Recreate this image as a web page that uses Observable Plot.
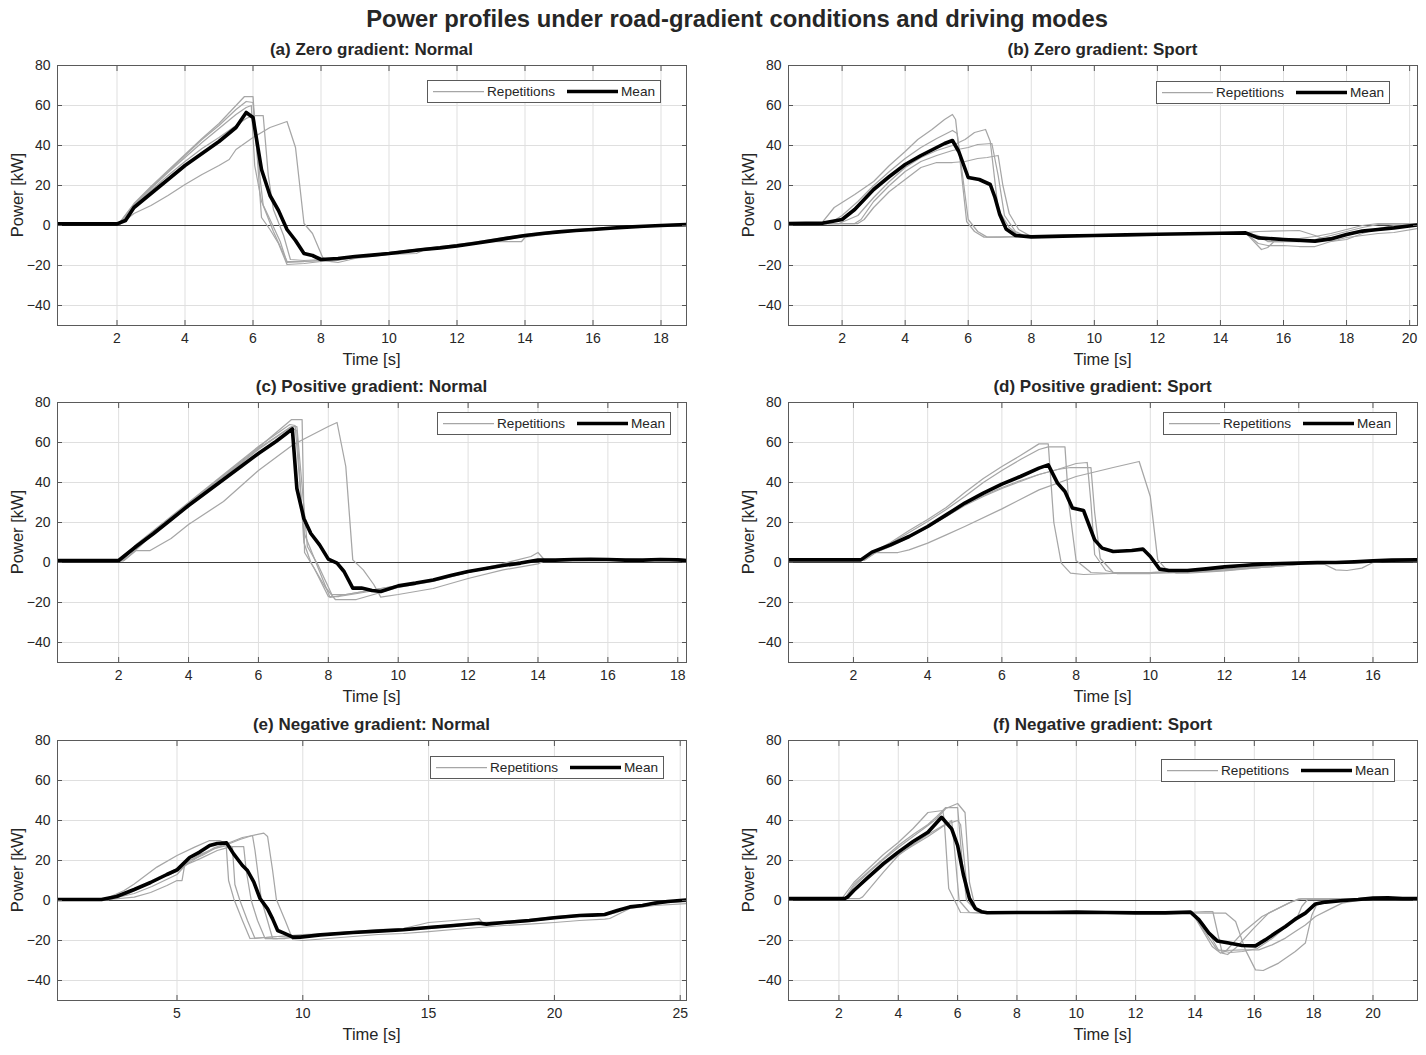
<!DOCTYPE html>
<html><head><meta charset="utf-8">
<script src="https://cdn.jsdelivr.net/npm/d3@7"></script>
<script src="https://cdn.jsdelivr.net/npm/@observablehq/plot@0.6"></script>
<style>
body{margin:0;background:#fff;font-family:"Liberation Sans",Arial,Helvetica,sans-serif;color:#262626;}
#root{position:relative;width:1426px;height:1055px;overflow:hidden;}
.abs{position:absolute;}
#title{left:37px;width:1400px;top:5px;text-align:center;font-weight:bold;font-size:23.8px;line-height:28px;white-space:nowrap;}
.ptitle{text-align:center;font-weight:bold;font-size:17px;line-height:20px;white-space:nowrap;}
.xlab{text-align:center;font-size:16.5px;line-height:19px;white-space:nowrap;}
.ylab{font-size:16.5px;line-height:19px;white-space:nowrap;transform:translate(-50%,-50%) rotate(-90deg);}
.legend{background:#fff;border:1px solid #5a5a5a;box-sizing:border-box;height:23px;}
</style>
</head><body><div id="root"><div id="title" class="abs">Power profiles under road-gradient conditions and driving modes</div></div>
<script>
// ---------- tick labels ----------
const yTicks = [-40, -20, 0, 20, 40, 60, 80];
const xTicksA = [2, 4, 6, 8, 10, 12, 14, 16, 18];
const xTicksB = [2, 4, 6, 8, 10, 12, 14, 16, 18, 20];
const xTicksC = [2, 4, 6, 8, 10, 12, 14, 16, 18];
const xTicksD = [2, 4, 6, 8, 10, 12, 14, 16];
const xTicksE = [5, 10, 15, 20, 25];
const xTicksF = [2, 4, 6, 8, 10, 12, 14, 16, 18, 20];

const panelTitles = ["(a) Zero gradient: Normal", "(b) Zero gradient: Sport", "(c) Positive gradient: Normal",
  "(d) Positive gradient: Sport", "(e) Negative gradient: Normal", "(f) Negative gradient: Sport"];
const timeRanges = [[0.25, 18.75], [0.3, 20.25], [0.25, 18.25], [0.25, 17.2], [0.25, 25.25], [0.3, 21.5]];

// ---------- (a) Zero gradient: Normal  [time s, power kW] ----------
const aMean = [[0.25,0.8],[2.0,0.8],[2.25,2.5],[2.5,9],[3,16],[3.5,23],[4,30],[4.5,36],[5,42],[5.5,49],[5.8,56.5],[6.0,54],[6.25,28],[6.5,15],[6.75,7.5],[7.0,-2],[7.25,-7.5],[7.5,-14],[7.75,-15],[8.0,-17],[8.5,-16.5],[9,-15.5],[9.5,-14.8],[10,-14],[10.5,-13],[11,-12],[11.5,-11.2],[12,-10.2],[12.5,-9],[13,-7.7],[13.5,-6.3],[14,-5],[14.5,-4],[15,-3.2],[15.5,-2.5],[16,-2],[16.5,-1.4],[17,-0.8],[17.5,-0.4],[18,0],[18.75,0.5]];
const aRep1 = [[0.25,0.8],[2.05,0.8],[2.5,11],[3,19.5],[3.5,27.5],[4,35.5],[4.5,43.5],[5,51],[5.5,60],[5.75,64.5],[6.0,64.5],[6.25,4],[6.5,-2],[6.75,-9],[7.0,-19.5],[7.5,-19],[8,-18],[8.5,-17],[9,-16],[10,-14],[11,-12],[12,-10.5],[13,-8],[14,-5.5],[15,-3.5],[16,-2],[17,-1],[18,0],[18.75,0.5]];
const aRep2 = [[0.25,0.8],[2.05,0.8],[2.5,10.5],[3,19],[3.5,27],[4,35],[4.5,43],[5,50],[5.5,58],[5.8,62],[6.0,61.5],[6.1,40],[6.3,10],[6.6,-3],[7.0,-18],[7.5,-18],[8,-17.5],[8.5,-17],[9,-15.5],[10,-13.5],[11,-11.5],[12,-10],[13,-7.5],[14,-5],[15,-3],[16,-1.5],[17,-0.5],[18,0.3],[18.75,0.8]];
const aRep3 = [[0.25,0.8],[2.1,0.8],[2.5,9.5],[3,17.5],[3.5,25],[4,32],[4.5,38.5],[5,44],[5.5,50],[5.8,53.5],[6.0,55],[6.3,55],[6.45,25],[6.6,8],[6.9,-5],[7.1,-17],[7.5,-17.5],[8,-17],[8.5,-16.5],[9,-15.5],[10,-13.5],[11,-11.5],[12,-9.5],[13,-7],[14,-4.5],[15,-2.5],[16,-1.5],[17,-0.5],[18,0],[18.75,0.3]];
const aRep4 = [[0.25,0.8],[2.1,0.8],[2.5,10],[3,18.5],[3.5,26.5],[4,34],[4.5,41.5],[5,48.5],[5.5,55.5],[5.8,59],[5.95,60],[6.05,30],[6.25,12],[6.5,3],[6.8,-8],[7.0,-18.5],[7.5,-18],[8,-17.5],[8.5,-18.5],[9,-16.5],[10,-14.5],[10.8,-14],[11,-12.5],[12,-10.5],[13,-8],[13.9,-8],[14,-6],[15,-3.5],[16,-2],[17,-1],[18,-0.3],[18.75,-0.5]];
const aRep5 = [[0.25,0.8],[2.1,0.8],[2.5,6],[3,10],[3.5,15],[4,20.5],[4.5,25.5],[5,30],[5.3,33],[5.5,38],[6.0,44],[6.5,49],[7.0,52],[7.25,39],[7.5,1],[7.75,-4],[8.05,-16],[8.3,-18],[9,-16],[10,-14],[11,-12],[12,-10],[13,-7.5],[14,-5],[15,-3],[16,-1.7],[17,-0.8],[18,0],[18.75,0.5]];

// ---------- (b) Zero gradient: Sport ----------
const bMean = [[0.3,1],[1.4,1.2],[1.75,2.2],[2.0,3],[2.4,8],[3,18],[3.5,24.5],[4,30.5],[4.5,35],[5,39],[5.25,41],[5.5,42.5],[5.7,37],[6.0,24],[6.35,23],[6.7,20.5],[6.85,14],[7.0,5.5],[7.2,-1.7],[7.5,-5],[8,-5.7],[9,-5.3],[10,-5],[11,-4.7],[12,-4.4],[13,-4.1],[14,-3.9],[14.8,-3.7],[15.2,-6.2],[16,-7],[17,-7.8],[17.5,-6.7],[18,-4.5],[18.5,-2.8],[19,-2],[19.5,-1.2],[20.25,0.3]];
const bRep1 = [[0.3,1],[1.35,1.2],[1.75,9],[2.4,15.5],[3,22],[3.5,30],[4,37],[4.4,43],[4.85,48],[5.25,53],[5.5,55.5],[5.6,53],[5.95,2],[6.2,-3],[6.5,-5.8],[7,-5.8],[7.5,-5.5],[8,-5.5],[9,-5.3],[10,-4.9],[11,-4.6],[12,-4.3],[13,-4],[14,-3.8],[14.8,-3.7],[15.3,-12],[15.5,-11],[15.7,-8],[16.5,-8],[17,-7],[17.5,-5],[18,-3],[18.5,-1],[19,0.5],[20.25,1]];
const bRep2 = [[0.3,1],[1.6,1],[2.0,5],[2.5,12],[3,20],[3.5,27],[4,33.5],[4.5,39],[5,43.5],[5.5,47.5],[5.65,46],[6.0,3],[6.3,-3],[6.6,-5.8],[7.5,-5.7],[8,-5.6],[9,-5.3],[10,-5],[11,-4.7],[12,-4.4],[13,-4.1],[14,-3.8],[14.8,-3.7],[15.2,-9],[15.5,-10],[16,-10],[16.5,-10.5],[17,-10.5],[17.5,-8],[18,-6],[18.5,-5],[19,-4],[19.5,-3.5],[20.25,-1.5]];
const bRep3 = [[0.3,1],[1.9,1],[2.5,5],[3,14],[3.5,22],[4,29],[4.5,34],[5,37.5],[5.5,40],[5.9,43],[6.2,46.5],[6.55,48],[6.7,42],[6.95,8],[7.3,-1],[7.6,-5],[8,-5.6],[9,-5.3],[10,-4.9],[11,-4.6],[12,-4.3],[13,-4],[14,-3.7],[14.8,-3.6],[15.2,-3],[16.5,-2.5],[17,-5],[17.5,-8],[18,-7],[18.5,-4],[19,-1.5],[19.5,0],[20.25,0.5]];
const bRep4 = [[0.3,1],[2.4,1],[2.6,3],[3,12],[3.5,20],[4,27],[4.5,32],[5,35],[5.5,37.5],[6,39],[6.3,40.5],[6.75,41],[6.95,25],[7.15,5],[7.5,-3],[7.8,-5.3],[8.5,-5.5],[9,-5.3],[10,-4.9],[11,-4.6],[12,-4.2],[13,-4],[14,-3.8],[14.8,-3.7],[15.2,-6],[16,-6.5],[16.5,-6.5],[17,-5.5],[17.5,-4],[18,-2],[18.5,0],[19,1],[20.25,1]];
const bRep5 = [[0.3,1],[2.5,1],[2.7,3],[3,9],[3.5,17],[4,23],[4.5,29],[5,31.5],[5.5,31.5],[5.9,32],[6.3,33.5],[6.6,34],[6.95,35],[7.1,20],[7.3,6],[7.6,-2],[8,-5.5],[9,-5.3],[10,-4.9],[11,-4.6],[12,-4.3],[13,-4],[14,-3.8],[14.8,-3.7],[15.2,-5],[15.5,-8],[16,-8],[17,-7.5],[17.5,-6],[18,-5],[18.5,-3],[19,-2],[20.25,0]];

// ---------- (c) Positive gradient: Normal ----------
const cMean = [[0.25,1],[2.0,1],[2.5,8],[3,14.5],[3.5,21.5],[4,28.5],[4.5,35],[5,41.5],[5.5,48],[6,54.5],[6.5,60.5],[6.8,64.5],[6.97,66.8],[7.1,37],[7.3,22],[7.5,14.5],[7.75,8.8],[8.0,1.7],[8.25,-0.3],[8.45,-4.5],[8.7,-12.8],[8.95,-12.8],[9.25,-14],[9.5,-14.5],[10,-11.7],[10.5,-10.3],[11,-8.7],[11.5,-6.5],[12,-4.5],[12.5,-3],[13,-1.5],[13.5,-0.3],[14,1.2],[14.5,1.2],[15,1.5],[15.5,1.6],[16,1.5],[16.5,1.2],[17,1.2],[17.5,1.5],[18,1.3],[18.25,1]];
const cRep1 = [[0.25,1],[2.05,1],[2.5,8.5],[3,15.5],[4,29.5],[5,43.5],[6,57.5],[6.95,71.5],[7.25,71.5],[7.32,5],[7.6,-3],[8.0,-17],[8.3,-17],[9,-15],[9.5,-13.5],[10,-12],[11,-9],[12,-5],[13,-1.5],[13.5,0],[14,1],[15,1.5],[16,1.5],[17,1.2],[18,1.5],[18.25,1]];
const cRep2 = [[0.25,1],[2.1,1],[2.5,9],[3,16],[4,30],[5,44],[6,58],[6.9,69],[7.05,68.5],[7.3,15],[7.6,2],[8.05,-17.5],[8.5,-16],[9,-14.5],[10,-11.5],[11,-8.5],[12,-4.5],[13,-1],[14,1.5],[15,1.5],[16,2],[17,1.5],[18,2],[18.25,1.5]];
const cRep3 = [[0.25,1],[2.1,1],[2.5,8],[3,15],[4,29],[5,43],[6,57],[6.9,67.5],[7.1,66],[7.3,10],[7.5,0],[7.9,-12],[8.2,-18.5],[8.8,-18.5],[9.5,-15],[10,-12.5],[11,-9.5],[12,-5],[13,-1],[14,1],[15,1.5],[16,1.5],[17,1],[18,1.2],[18.25,1]];
const cRep4 = [[0.25,1],[2.15,1],[2.6,8],[3,14.5],[4,28.5],[5,42.5],[6,56.5],[6.95,68],[7.1,68],[7.4,8],[7.7,-1],[8.1,-16],[8.5,-16],[9,-14.5],[10,-11.5],[11,-8.5],[12,-4.5],[13,-0.5],[13.8,3],[14,5],[14.2,1],[15,1.5],[16,1.5],[17,1.2],[18,1.5],[18.25,1]];
const cRep5 = [[0.25,1],[2.15,1],[2.5,6],[2.9,6],[3.5,12],[4,19],[5,30.5],[6,46],[7,59],[8,68],[8.25,70],[8.5,48],[8.7,1.3],[9,-3.7],[9.3,-11],[9.5,-17.3],[10,-16],[11,-13],[12,-8],[13,-3.7],[14,-0.7],[14.2,1],[15,1],[16,1.2],[17,1],[18,1],[18.25,0.8]];

// ---------- (d) Positive gradient: Sport ----------
const dMean = [[0.25,1.3],[2.2,1.3],[2.5,5.2],[3,8.8],[3.5,13],[4,18],[4.5,23.8],[5,29.7],[5.5,34.7],[6,39.2],[6.5,43],[7,47.2],[7.25,48.8],[7.5,39.7],[7.7,35.5],[7.9,27.2],[8.2,26],[8.5,11.3],[8.7,7.2],[9,5.5],[9.5,6],[9.8,6.7],[10,3],[10.25,-3.3],[10.5,-4],[11,-4],[11.5,-3.2],[12,-2.2],[12.5,-1.5],[13,-0.8],[13.5,-0.5],[14,-0.3],[14.5,0],[15,0],[15.5,0.3],[16,0.8],[16.5,1.2],[17.2,1.3]];
const dRep1 = [[0.25,1.3],[2.25,1.3],[2.5,5],[3,10],[3.5,16],[4,21.5],[4.5,27.5],[5,35],[5.5,42],[6,48],[6.5,53.5],[7,59.3],[7.25,59.3],[7.4,20],[7.6,-0.3],[7.85,-5.3],[8.2,-6],[9,-5.5],[10,-5],[11,-4.5],[12,-3.5],[13,-2.5],[14,-1],[15,0],[16,0.8],[17.2,1.3]];
const dRep2 = [[0.25,1.3],[2.25,1.3],[2.5,5],[3,9.5],[3.5,15],[4,20.5],[4.5,26.5],[5,33],[5.5,40],[6,46],[6.5,51.5],[7,56.5],[7.25,57.8],[7.7,57.8],[7.8,30],[8.0,1],[8.4,-5],[9,-5.5],[10,-5],[11,-4.5],[12,-3.5],[13,-2],[14,-0.5],[15,0],[16,0.8],[17.2,1.5]];
const dRep3 = [[0.25,1.3],[2.3,1.3],[2.6,5],[3,8.5],[3.5,13],[4,18],[4.5,23],[5,29],[5.5,33.5],[6,37.5],[6.5,41],[7,44],[7.5,46.5],[8,49.5],[8.3,50],[8.4,30],[8.5,4],[8.8,-4],[9.1,-5.5],[10,-5.5],[11,-5],[12,-4],[13,-2.5],[14,-1],[15,0],[16,0.5],[17.2,1]];
const dRep4 = [[0.25,1.3],[2.3,1.3],[2.6,5],[3,8],[3.5,12.5],[4,17.5],[4.5,23],[5,28.5],[5.5,33],[6,37],[6.5,40.5],[7,44],[7.5,46.5],[7.85,47.5],[8.4,47.5],[8.5,25],[8.65,2],[9,-5],[10,-5],[11,-4.5],[12,-3.5],[13,-2],[14,-0.5],[15,0],[16,1],[17.2,1.5]];
const dRep5 = [[0.25,1.3],[2.3,1.3],[2.5,5],[3.2,5],[3.5,6.3],[4,9.7],[4.5,13.8],[5,18],[6,26.8],[7,36.3],[8,43],[9,47.5],[9.7,50.5],[10.0,33],[10.2,1.3],[10.4,-2.8],[10.7,-5.3],[11,-5.3],[12,-4.2],[13,-2.5],[14,-0.8],[14.7,-1],[15,-3.7],[15.3,-4],[15.7,-2.8],[16,0],[16.5,1],[17.2,1]];

// ---------- (e) Negative gradient: Normal ----------
const eMean = [[0.25,0.5],[2.0,0.5],[2.6,2],[3.3,5.5],[3.95,9],[4.6,13],[5,15.3],[5.5,21.5],[5.9,24.2],[6.3,27.5],[6.6,28.5],[6.97,28.8],[7.25,23.3],[7.6,17.5],[7.8,15],[8.05,9.3],[8.3,1],[8.6,-4.2],[8.8,-9.2],[9.0,-15],[9.25,-16.3],[9.6,-18.3],[9.9,-18.3],[10.7,-17.2],[12,-16],[13,-15.3],[14,-14.6],[15,-13.5],[16,-12.5],[17,-11.4],[17.3,-11.8],[18,-11],[19,-10],[20,-8.6],[21,-7.5],[21.5,-7.3],[22,-7],[22.5,-5],[23,-3.2],[23.5,-2.5],[24,-1.3],[24.5,-0.5],[25.25,0.3]];
const eRep1 = [[0.25,0.5],[2.1,0.5],[2.9,5],[3.3,8.3],[4.2,16.7],[5,22.5],[5.7,26.7],[6.3,30],[6.7,30],[6.95,28.5],[7.05,10],[7.26,0.8],[7.6,-10],[7.9,-19],[8.5,-18.5],[9,-18],[10,-17],[11,-16.5],[12,-15.5],[13,-14.5],[14,-14],[15,-13],[16,-12],[17,-11],[18,-10.5],[19,-9.5],[20,-8],[21,-7],[22,-6.5],[23,-3],[24,-1],[25.25,0]];
const eRep2 = [[0.25,0.5],[2.3,0.5],[3.3,1.7],[3.95,4],[4.6,7.5],[5,10],[5.2,10],[5.3,17.5],[5.9,20.8],[6.6,25],[6.97,26.3],[7.2,27],[7.65,27],[7.75,15],[7.95,0],[8.2,-10],[8.5,-19],[9,-19],[10,-18],[11,-17],[12,-16],[13,-15.5],[14,-15],[15,-14],[16,-13],[17,-12],[18,-11.5],[19,-10.5],[20,-9],[21,-8],[22,-7.5],[22.5,-6],[23,-3],[24,-1.5],[25.25,-0.5]];
const eRep3 = [[0.25,0.5],[2.2,0.5],[3.3,5],[4,9.5],[5,14.5],[5.5,19],[6,23],[6.5,26.5],[7,28.5],[7.3,30],[7.6,31.5],[8.0,32.5],[8.1,25],[8.35,0.5],[8.55,-8],[8.8,-19],[9.3,-19],[10,-18],[11,-17],[12,-16],[13,-15],[14,-14.5],[15,-13.5],[16,-12.5],[17,-11.5],[18,-11],[19,-10],[20,-8.5],[21,-7.5],[22,-7.5],[22.5,-5],[23,-3],[24,-1],[25.25,0.3]];
const eRep4 = [[0.25,0.5],[2.3,0.5],[3.3,3.5],[4,7],[5,13],[5.5,20],[6,22.5],[6.5,26],[7,28],[7.5,30.5],[8,32.5],[8.45,33.7],[8.6,32],[8.8,15],[8.95,0.5],[9.3,-10],[9.6,-19.5],[10,-20],[11,-19],[12,-18],[13,-17],[14,-16.5],[15,-15.6],[16,-14.5],[17,-13.5],[18,-12.5],[19,-11.8],[20,-11],[21,-10],[22,-9.3],[22.2,-9],[23,-4],[24,-2.5],[25.25,-1.5]];
const eRep5 = [[0.25,0.5],[2.2,0.5],[3,3],[3.5,6],[4,10],[4.5,13],[5,16],[5.5,20],[6,23.5],[6.5,26],[7,27.5],[7.2,27],[7.3,8],[7.5,0],[7.8,-10],[8.1,-19],[8.5,-18.5],[9,-18],[10,-17.5],[11,-16.5],[12,-15.5],[13,-15],[14,-14],[15,-11],[16,-10],[17,-9],[17.2,-12],[18,-11],[19,-10],[20,-8.5],[21,-7.5],[22,-7],[23,-3.5],[24,-1.5],[25.25,0]];

// ---------- (f) Negative gradient: Sport ----------
const fMean = [[0.3,1],[2.2,1],[2.3,1.8],[2.5,5],[3,11.8],[3.5,18.4],[4,24.2],[4.5,29.5],[5,34.1],[5.46,41.6],[5.8,35.8],[6.0,27.5],[6.2,12.6],[6.4,1],[6.6,-4],[6.8,-5.6],[7,-6.1],[8,-6],[9,-6],[10,-5.8],[11,-6],[12,-6.2],[13,-6.2],[13.85,-5.8],[14.13,-9.6],[14.47,-16.3],[14.75,-20.2],[15.14,-21.3],[15.59,-22.5],[16.04,-22.7],[16.37,-19.7],[16.71,-16.3],[17.05,-13],[17.38,-9.3],[17.72,-6.3],[18.06,-1.7],[18.4,-0.8],[19,0],[19.5,0.5],[20,1.2],[20.5,1.3],[21,1],[21.5,1]];
const fRep1 = [[0.3,1],[2.2,1],[2.5,7],[3,14],[3.5,20.5],[4,26.5],[4.5,32],[5,37.5],[5.3,41],[5.6,46],[6.0,48.5],[6.25,44],[6.4,9],[6.6,-4],[7,-6],[8,-6.5],[9,-6],[10,-6],[11,-6],[12,-6.5],[13,-6],[13.9,-6],[14.58,-23],[14.86,-26.3],[15.03,-25.5],[15.59,-16.3],[16.26,-8],[16.82,-3.8],[17.27,-0.5],[17.6,0.8],[18.5,0.8],[19.5,1],[20,1.5],[21.5,1.2]];
const fRep2 = [[0.3,1],[2.2,1],[2.5,8],[3,14.5],[3.5,21],[4,27.5],[4.5,33],[5,38],[5.3,42],[5.6,46.5],[6.0,46.5],[6.15,20],[6.3,0],[6.7,-6],[7,-6.3],[8,-6],[9,-6.3],[10,-5.8],[11,-6.2],[12,-6],[13,-6.5],[14.36,-5.5],[14.6,-5.5],[14.92,-26.3],[15.1,-27],[15.37,-23.8],[15.93,-14.7],[16.48,-6.3],[17.16,-1.3],[17.5,0.8],[18.5,0.8],[19.5,1],[20,1.3],[21.5,1]];
const fRep3 = [[0.3,1],[2.1,1],[2.5,9],[3,16],[3.5,23],[4,29],[4.5,36],[5,44],[5.5,45],[5.55,40],[5.7,6],[6.1,-6],[7,-6.2],[8,-6.5],[9,-6],[10,-6],[11,-6],[12,-6],[13,-6],[13.9,-6],[14.36,-16.3],[14.75,-24.7],[15,-25],[15.59,-24.7],[16.15,-24.7],[16.6,-22.2],[17.05,-18.8],[17.38,-15.5],[17.72,-12.2],[18.06,-8],[18.5,-4.7],[18.96,-1.3],[19.5,0],[20,1],[21.5,1]];
const fRep4 = [[0.3,1],[2.2,1],[2.5,5],[3,11],[3.5,17.5],[4,23],[4.5,27.5],[5,32],[5.5,37],[5.8,40],[5.9,25],[6.05,0],[6.4,-6],[7,-6.5],[8,-6],[9,-6],[10,-6],[11,-6.3],[12,-6.5],[13,-6],[13.9,-6],[14.3,-12],[14.8,-25],[15.2,-26],[15.6,-25.5],[16.1,-24],[16.6,-19],[17,-14],[17.4,-10],[17.6,-3],[17.8,0.5],[18.5,0.5],[19.5,1],[20,1.5],[21.5,1]];
const fRep5 = [[0.3,1],[2.7,1],[2.8,1.8],[3.5,14.2],[4,22.5],[4.5,28],[5,33],[5.5,37.4],[6.0,40],[6.1,38],[6.35,2],[6.6,-5],[7,-6],[8,-6],[9,-5.8],[10,-5.8],[11,-6],[12,-6.2],[13,-6.2],[15.03,-6.3],[15.37,-10.5],[15.7,-24.7],[16.04,-34.7],[16.3,-35],[16.82,-31.3],[17.38,-25.5],[17.72,-21.3],[17.94,-7.2],[18.1,-2.2],[18.4,-1],[19,-0.3],[19.5,0.5],[20,1],[21.5,1]];

// ---------- assemble panels ----------
const panels = [
  {title: panelTitles[0], range: timeRanges[0], ticks: xTicksA, mean: aMean, reps: [aRep1, aRep2, aRep3, aRep4, aRep5], col: 0, row: 0, leg: [427, 80]},
  {title: panelTitles[1], range: timeRanges[1], ticks: xTicksB, mean: bMean, reps: [bRep1, bRep2, bRep3, bRep4, bRep5], col: 1, row: 0, leg: [1156, 81]},
  {title: panelTitles[2], range: timeRanges[2], ticks: xTicksC, mean: cMean, reps: [cRep1, cRep2, cRep3, cRep4, cRep5], col: 0, row: 1, leg: [437, 412]},
  {title: panelTitles[3], range: timeRanges[3], ticks: xTicksD, mean: dMean, reps: [dRep1, dRep2, dRep3, dRep4, dRep5], col: 1, row: 1, leg: [1163, 412]},
  {title: panelTitles[4], range: timeRanges[4], ticks: xTicksE, mean: eMean, reps: [eRep1, eRep2, eRep3, eRep4, eRep5], col: 0, row: 2, leg: [430, 756]},
  {title: panelTitles[5], range: timeRanges[5], ticks: xTicksF, mean: fMean, reps: [fRep1, fRep2, fRep3, fRep4, fRep5], col: 1, row: 2, leg: [1161, 759]}
];

const root = document.getElementById("root");
const frameTops = [65, 402, 740];
const frameH = 260;
const colFrame = [[57, 686], [788, 1417]];
const svgW = 713;
const mTop = 10, mBottom = 30;

function addDiv(cls, text, style) {
  const d = document.createElement("div");
  d.className = "abs " + cls;
  d.textContent = text;
  Object.assign(d.style, style);
  root.appendChild(d);
  return d;
}

panels.forEach(p => {
  const [fx0, fx1] = colFrame[p.col];
  const svgLeft = p.col * svgW;
  const ft = frameTops[p.row];
  const repRows = p.reps.flatMap((r, i) => r.map(([t, v]) => ({t, v, rep: i})));
  const meanRows = p.mean.map(([t, v]) => ({t, v}));
  const chart = Plot.plot({
    width: svgW,
    height: mTop + frameH + mBottom,
    marginLeft: fx0 - svgLeft,
    marginRight: svgLeft + svgW - fx1,
    marginTop: mTop,
    marginBottom: mBottom,
    style: {fontFamily: "'Liberation Sans', Arial, sans-serif", fontSize: "14px", color: "#262626", background: "transparent"},
    x: {domain: p.range},
    y: {domain: [-50, 80]},
    marks: [
      Plot.gridX(p.ticks, {stroke: "#dfdfdf", strokeOpacity: 1}),
      Plot.gridY(yTicks, {stroke: "#dfdfdf", strokeOpacity: 1}),
      Plot.ruleY([0], {stroke: "#3c3c3c", strokeWidth: 1.1}),
      Plot.line(repRows, {x: "t", y: "v", z: "rep", stroke: "#a6a6a6", strokeWidth: 1.25, clip: true}),
      Plot.line(meanRows, {x: "t", y: "v", stroke: "#000", strokeWidth: 3.6, strokeLinejoin: "round", clip: true}),
      Plot.axisX(p.ticks, {anchor: "bottom", tickSize: -5, tickPadding: 13, label: null, stroke: "#555"}),
      Plot.axisX(p.ticks, {anchor: "top", tickSize: -5, tickFormat: () => "", label: null, stroke: "#555"}),
      Plot.axisY(yTicks, {anchor: "left", tickSize: -5, tickPadding: 12, label: null, stroke: "#555", tickFormat: d => d < 0 ? "\u2212" + Math.abs(d) : String(d)}),
      Plot.axisY(yTicks, {anchor: "right", tickSize: -5, tickFormat: () => "", label: null, stroke: "#555"}),
      Plot.frame({stroke: "#5a5a5a", strokeWidth: 1})
    ]
  });
  chart.style.position = "absolute";
  chart.style.left = svgLeft + "px";
  chart.style.top = (ft - mTop) + "px";
  root.appendChild(chart);

  const cx = (fx0 + fx1) / 2;
  addDiv("ptitle", p.title, {left: (cx - 200) + "px", width: "400px", top: (ft - 25) + "px"});
  addDiv("xlab", "Time [s]", {left: (cx - 100) + "px", width: "200px", top: (ft + frameH + 25) + "px"});
  addDiv("ylab", "Power [kW]", {left: (fx0 - 40) + "px", top: (ft + frameH / 2) + "px"});

  // legend box
  const lg = document.createElement("div");
  lg.className = "abs legend";
  lg.style.left = p.leg[0] + "px";
  lg.style.top = p.leg[1] + "px";
  lg.style.width = "234px";
  lg.innerHTML = `<svg width="232" height="21" style="display:block">
    <line x1="5" x2="56" y1="10.5" y2="10.5" stroke="#a6a6a6" stroke-width="1.25"/>
    <text x="59" y="15.3" font-size="13.6" fill="#262626" font-family="'Liberation Sans', Arial, sans-serif">Repetitions</text>
    <line x1="139" x2="190" y1="10.5" y2="10.5" stroke="#000" stroke-width="3.6"/>
    <text x="193" y="15.3" font-size="13.6" fill="#262626" font-family="'Liberation Sans', Arial, sans-serif">Mean</text>
  </svg>`;
  root.appendChild(lg);
});
</script>
</body></html>
